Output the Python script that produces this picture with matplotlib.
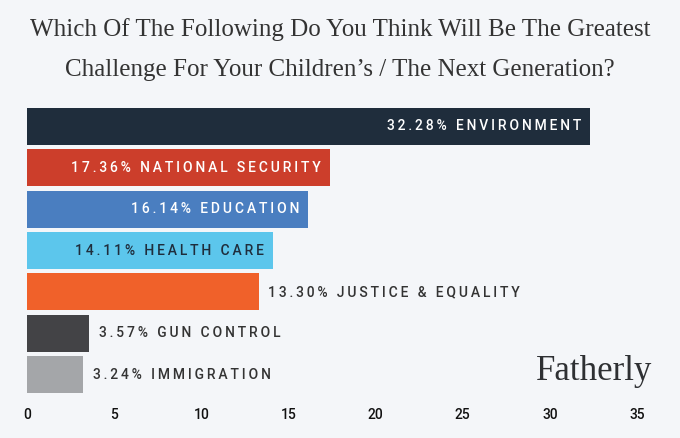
import matplotlib.pyplot as plt
import matplotlib

matplotlib.rcParams["font.family"] = ["Roboto", "DejaVu Sans"]

# --- data ---
categories = ["ENVIRONMENT", "NATIONAL SECURITY", "EDUCATION", "HEALTH CARE",
              "JUSTICE & EQUALITY", "GUN CONTROL", "IMMIGRATION"]
values = [32.28, 17.36, 16.14, 14.11, 13.30, 3.57, 3.24]
colors = ["#1f2d3c", "#cc3e2b", "#4a7ec0", "#5cc6ec", "#f0612a", "#434346", "#a4a6a9"]
label_inside = [True, True, True, True, False, False, False]
label_colors = ["white", "white", "white", "#1f2d3c", "#333333", "#333333", "#333333"]
xticks = [0, 5, 10, 15, 20, 25, 30, 35]

BG = "#f4f6f9"


def spaced(s):
    # fake letter spacing with thin spaces
    return "\u2009".join(s)


fig = plt.figure(figsize=(6.8, 4.38), dpi=100, facecolor=BG)
ax = fig.add_axes([0.0397, 0.0977, 0.8971, 0.6607], facecolor=BG)

y = list(range(len(categories)))
ax.barh(y, values, height=0.9, color=colors)

for yi, v, cat, inside, tc in zip(y, values, categories, label_inside, label_colors):
    txt = spaced(f"{v:.2f}% {cat}")
    if inside:
        ax.text(v - 0.5, yi, txt, ha="right", va="center", color=tc,
                fontsize=10, fontweight="medium")
    else:
        ax.text(v + 0.55, yi, txt, ha="left", va="center", color=tc,
                fontsize=10, fontweight="medium")

ax.set_ylim(6.5, -0.5)
ax.set_xlim(0, 35)
ax.set_yticks([])
ax.set_xticks(xticks)
ax.set_xticklabels([str(t) for t in xticks], fontsize=10, color="#111111",
                   fontweight="medium")
ax.tick_params(axis="x", length=0, pad=9)
for s in ax.spines.values():
    s.set_visible(False)

# --- title ---
fig.text(0.5, 1 - 30 / 438, "Which Of The Following Do You Think Will Be The Greatest",
         ha="center", va="center", fontsize=18, family="Liberation Serif", color="#333333")
fig.text(0.5, 1 - 70 / 438, "Challenge For Your Children\u2019s / The Next Generation?",
         ha="center", va="center", fontsize=18, family="Liberation Serif", color="#333333")

# --- logo ---
fig.text(652 / 680, 1 - 372 / 438, "Fatherly", ha="right", va="center",
         fontsize=25, family="Liberation Serif", color="#2e3033")

fig.savefig("out.png", dpi=100, facecolor=BG)
